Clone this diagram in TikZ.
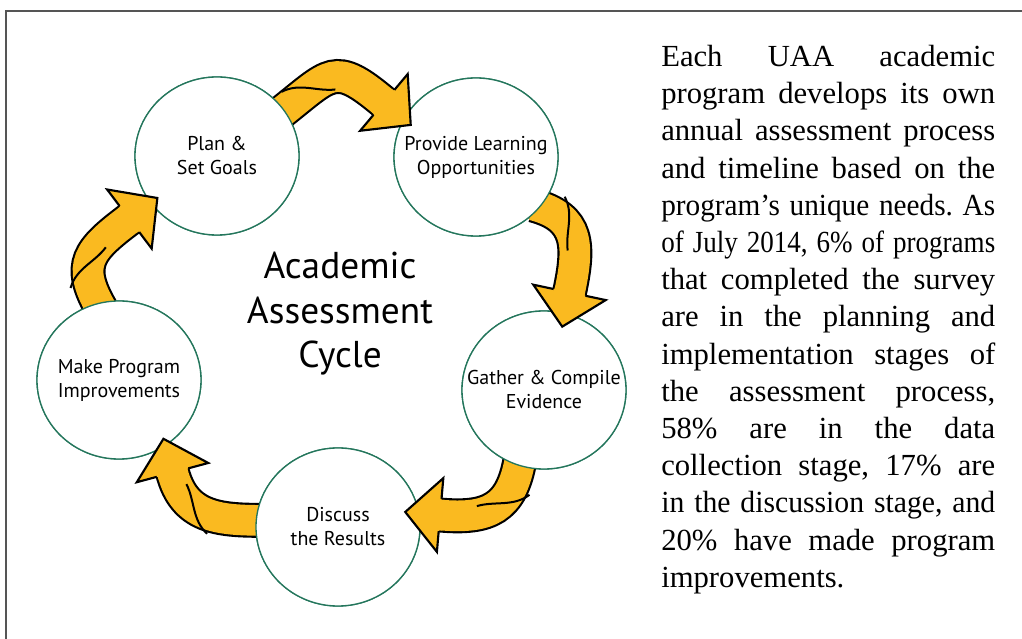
\documentclass[tikz,border=0pt]{standalone}
\usepackage{fontspec}
\setmainfont{Liberation Serif}
\newfontfamily\diagfont{PT Sans}
\usepackage{graphicx}
\usetikzlibrary{shapes.geometric,decorations.markings,calc}

\definecolor{arrowyellow}{RGB}{250,186,32}
\definecolor{ringgreen}{RGB}{36,118,92}
\definecolor{framegray}{RGB}{85,85,85}

% one justified line of the note
\newlength\jlwd
\newcommand\jline[1]{\settowidth{\jlwd}{#1}%
  \ifdim\jlwd>250.5pt\resizebox{250.5pt}{\height}{#1}%
  \else\makebox[250.5pt][s]{\spaceskip=0.25em plus 1fil\relax#1}\fi}

% head and fold of a cycle arrow
\newcommand\cyctip{%
  \fill[arrowyellow] (-3,15.3) -- (0,15.3) -- (0,37) -- (35,0) -- (0,-37) -- (0,-15.3) -- (-3,-15.3) -- cycle;
  \draw[line width=1.6pt,line join=miter] (0,16.3) -- (0,37) -- (35,0) -- (0,-37) -- (0,-16.3);}
\newcommand\cycfold{%
  \draw[line width=1.5pt] (-22,15.5) .. controls (-2,12) and (6,-6) .. (22,-15.5);}

\tikzset{
  stage/.style={ellipse,draw=ringgreen,line width=1pt,fill=white,
    minimum width=123pt,minimum height=118.5pt,inner xsep=-15pt,inner ysep=0pt,
    align=center,font=\diagfont\fontsize{15}{18}\selectfont},
  cycband/.style={draw=black,line width=1.6pt,double=arrowyellow,double distance=23pt},
  cychead/.style={postaction={decorate,decoration={markings,
    mark=at position #1 with {\cycfold},mark=at position 0.999 with {\cyctip}}}},
}

\begin{document}
\frenchspacing
\begin{tikzpicture}[x=0.75pt,y=0.75pt]
	\useasboundingbox (0,0) rectangle (1022,639);
	\draw[framegray,line width=1.5pt] (6,0) -- (6,628) -- (1022,628);

	% stages
	\coordinate (plan) at (217,483);
	\coordinate (learn) at (476,482);
	\coordinate (gather) at (544,249);
	\coordinate (discuss) at (338,112);
	\coordinate (improve) at (119,259);
	\coordinate (toLearn) at ($(learn)+(-92,54.5)$);
	\coordinate (toGather) at ($(gather)+(25.5,97.5)$);
	\coordinate (toDiscuss) at ($(discuss)+(102,12)$);
	\coordinate (toImprove) at ($(improve)+(53.5,-92.5)$);
	\coordinate (toPlan) at ($(plan)+(-87.5,-63)$);
	\foreach \src in {plan,learn,gather,discuss,improve}
		\node[stage] (\src) at (\src) {};

	% arrows: bands under the stages, heads over them
	\foreach \src/\ang/\out/\in/\dst/\lo in {plan/34/38/140/toLearn/1.6,
		learn/-40/-15/78/toGather/1.3, gather/-109/-100/-5/toDiscuss/1.3,
		discuss/175/180/-75/toImprove/1.15, improve/104/120/217/toPlan/1.4}
		\draw[cycband] ($(\src)!0.92!(\src.\ang)$) to[out=\out,in=\in,looseness=\lo] (\dst);

	\node[stage] at (plan) {Plan \&\\Set Goals};
	\node[stage] at (learn) {Provide Learning\\Opportunities};
	\node[stage] at (gather) {Gather \& Compile\\Evidence};
	\node[stage] at (discuss) {Discuss\\the Results};
	\node[stage] at (improve) {Make Program\\Improvements};
	\foreach \src/\ang/\out/\in/\dst/\lo/\fp in {plan/34/38/140/toLearn/1.6/0.3,
		learn/-40/-15/78/toGather/1.3/0.35, gather/-109/-100/-5/toDiscuss/1.3/0.4,
		discuss/175/180/-75/toImprove/1.15/0.6, improve/104/120/217/toPlan/1.4/0.4}
		\path[cychead=\fp] ($(\src)!0.92!(\src.\ang)$) to[out=\out,in=\in,looseness=\lo] (\dst);

	\node[font=\diagfont\fontsize{28}{33.4}\selectfont,align=center,anchor=north,inner sep=0pt]
		(title) at (340,387) {Academic\\Assessment\\Cycle};

	\node[anchor=north west,inner sep=0pt,text width=250.5pt,align=left,
		font=\fontsize{23}{27.9}\selectfont] (note) at (661,594) {%
		\jline{Each UAA academic}\\
		\jline{program develops its own}\\
		\jline{annual assessment process}\\
		\jline{and timeline based on the}\\
		\jline{program’s unique needs. As}\\
		\jline{of July 2014, 6\% of programs}\\
		\jline{that completed the survey}\\
		\jline{are in the planning and}\\
		\jline{implementation stages of}\\
		\jline{the assessment process,}\\
		\jline{58\% are in the data}\\
		\jline{collection stage, 17\% are}\\
		\jline{in the discussion stage, and}\\
		\jline{20\% have made program}\\
		improvements.};
\end{tikzpicture}
\end{document}
